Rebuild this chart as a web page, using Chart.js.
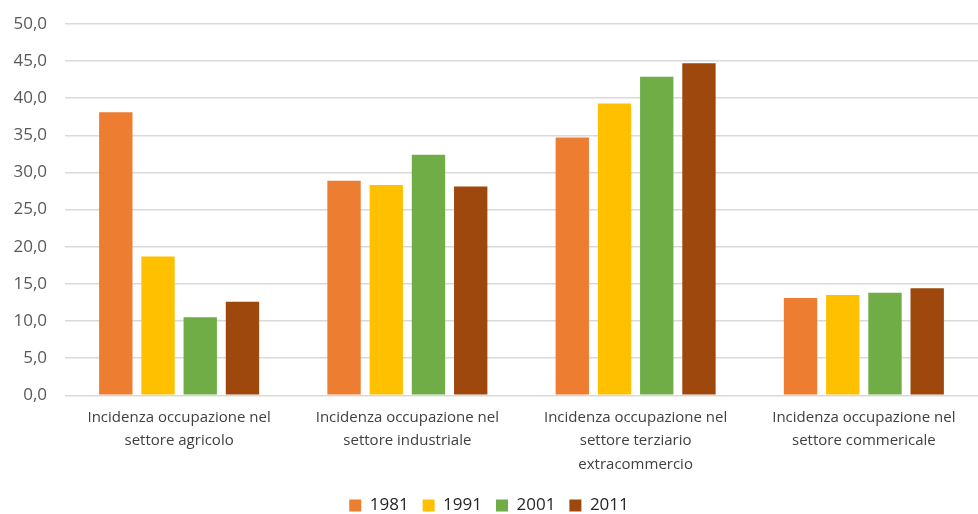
<!DOCTYPE html>
<html>
<head>
<meta charset="utf-8">
<script src="https://cdn.jsdelivr.net/npm/chart.js@4"></script>
<style>
html,body{margin:0;padding:0;background:#fff;}
#wrap{width:978px;height:514px;position:relative;}
</style>
</head>
<body>
<div id="wrap"><canvas id="c"></canvas></div>
<script>
const categories = [
  ["Incidenza occupazione nel", "settore agricolo"],
  ["Incidenza occupazione nel", "settore industriale"],
  ["Incidenza occupazione nel", "settore terziario", "extracommercio"],
  ["Incidenza occupazione nel", "settore commericale"]
];
const years = ["1981", "1991", "2001", "2011"];
const v1981 = [38.1, 28.9, 34.7, 13.1];
const v1991 = [18.7, 28.3, 39.3, 13.5];
const v2001 = [10.5, 32.4, 42.9, 13.8];
const v2011 = [12.6, 28.1, 44.7, 14.4];
const colors = ["#ED7D31", "#FFC000", "#70AD47", "#9E480E"];

const FONT = "'Open Sans', sans-serif";
const series = [v1981, v1991, v2001, v2011];
new Chart(document.getElementById('c'), {
  type: 'bar',
  data: {
    labels: categories,
    datasets: series.map((d, i) => ({
      label: years[i],
      data: d,
      backgroundColor: colors[i],
      borderWidth: 0,
      barPercentage: 0.79,
      categoryPercentage: 0.74
    }))
  },
  options: {
    responsive: true,
    maintainAspectRatio: false,
    animation: false,
    layout: { padding: { top: 24, right: 0, left: 0, bottom: -10 } },
    plugins: {
      tooltip: { enabled: false },
      legend: {
        position: 'bottom',
        labels: {
          boxWidth: 12, boxHeight: 12, padding: 14,
          color: '#262626',
          font: { family: FONT, size: 17 }
        }
      }
    },
    scales: {
      x: {
        grid: { display: false },
        border: { display: false },
        afterFit: s => { s.height += 4; },
        ticks: {
          color: '#404040',
          font: { family: FONT, size: 15, lineHeight: 1.55 },
          maxRotation: 0, autoSkip: false, padding: 3
        }
      },
      y: {
        min: 0, max: 50,
        border: { display: false },
        grid: { color: '#d9d9d9', lineWidth: 1.5, drawTicks: false },
        afterFit: s => { s.width = 65; s.paddingTop = 0; s.paddingBottom = 0; },
        ticks: {
          stepSize: 5,
          color: '#595959',
          padding: 18,
          font: { family: FONT, size: 17 },
          callback: v => v.toFixed(1).replace('.', ',')
        }
      }
    }
  }
});
</script>
</body>
</html>
